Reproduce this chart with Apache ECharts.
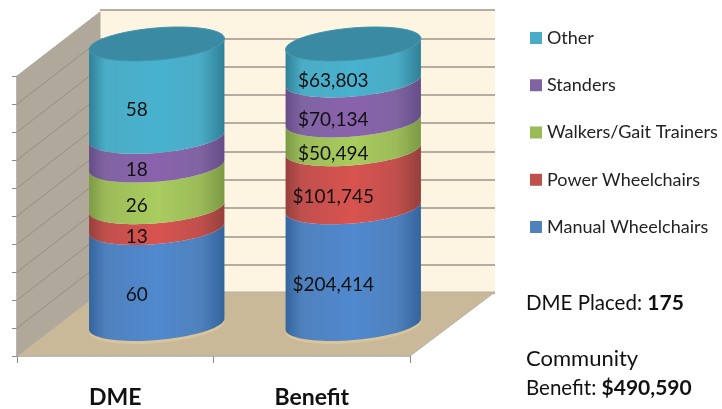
<!DOCTYPE html>
<html><head><meta charset="utf-8">
<style>html,body{margin:0;padding:0;background:#fff}#c{width:722px;height:409px}</style>
<script src="https://cdn.jsdelivr.net/npm/echarts@6/dist/echarts.min.js"></script>
</head><body><div id="c"></div>
<script>
var categories = ['DME', 'Benefit'];
var seriesNames = ['Manual Wheelchairs', 'Power Wheelchairs', 'Walkers/Gait Trainers', 'Standers', 'Other'];
var legendOrder = ['Other', 'Standers', 'Walkers/Gait Trainers', 'Power Wheelchairs', 'Manual Wheelchairs'];
var dmeValues = [60, 13, 26, 18, 58];
var benefitValues = [204414, 101745, 50494, 70134, 63803];
var colors = ['#4f81bd', '#c0504d', '#9bbb59', '#8064a2', '#4bacc6'];
var bright = ['#5089cf', '#d9534f', '#a9cc5f', '#8a62ad', '#48b2cf'];
var dark = ['#34649c', '#96403c', '#7b9a45', '#654d88', '#2f8098'];
var gridTicks = [0, 10, 20, 30, 40, 50, 60, 70, 80, 90, 100];
var noteDme = 'DME Placed: ', noteDmeValue = '175';
var noteCommunity = 'Community', noteBenefit = 'Benefit: ', noteBenefitValue = '$490,590';

var FONT = 'Lato, Carlito, sans-serif';
var DEPTH_X = 83, DEPTH_Y = -64;            // wall depth in pixels
var R = 64, EX = 22, EY = 17;               // oblique ellipse parameters

function money(v) { return '$' + v.toLocaleString('en-US'); }
function rows(vals) {
  var total = vals.reduce(function (a, b) { return a + b; }, 0);
  return { total: total, vals: vals };
}
var tables = [rows(dmeValues), rows(benefitValues)];
function seriesData(s) {
  return tables.map(function (t, c) {
    var before = 0;
    for (var i = 0; i < s; i++) before += t.vals[i];
    return [c, before / t.total * 100, (before + t.vals[s]) / t.total * 100];
  });
}
function ellipsePt(cx, cy, t) {
  return [cx + R * Math.cos(t) + EX * Math.sin(t), cy - EY * Math.sin(t)];
}
var T0 = Math.atan2(EX, R);
function frontArc(cx, cy, n) {
  var pts = [];
  for (var i = 0; i <= n; i++) {
    var t = T0 - (i / n) * Math.PI;
    pts.push(ellipsePt(cx, cy, t));
  }
  return pts;
}
function bodyFill(s) {
  return new echarts.graphic.LinearGradient(0, 0, 1, 0, [
    { offset: 0, color: dark[s] }, { offset: 0.12, color: colors[s] },
    { offset: 0.5, color: bright[s] }, { offset: 0.82, color: colors[s] },
    { offset: 1, color: dark[s] }
  ]);
}
function cylinderSeries(s) {
  return {
    type: 'custom', name: seriesNames[s], xAxisIndex: 0, yAxisIndex: 0, z: 5,
    itemStyle: { color: colors[s] },
    encode: { x: 0, y: [1, 2] },
    data: seriesData(s),
    clip: false,
    renderItem: function (params, api) {
      var cat = api.value(0), lo = api.coord([cat, api.value(1)]), hi = api.coord([cat, api.value(2)]);
      var cx = lo[0] + DEPTH_X / 2, yLo = lo[1] + DEPTH_Y / 2, yHi = hi[1] + DEPTH_Y / 2;
      var pts = frontArc(cx, yLo, 40).concat(frontArc(cx, yHi, 40).reverse());
      var raw = tables[cat].vals[s];
      var children = [{
        type: 'polygon', shape: { points: pts },
        style: { fill: bodyFill(s), stroke: null }
      }];
      if (s === 0) {
        var halo = [];
        for (var j = 0; j < 72; j++) halo.push(ellipsePt(cx, yLo + 3, j / 72 * 2 * Math.PI));
        children.unshift({
          type: 'polygon', shape: { points: halo },
          style: { fill: '#d9c49c', stroke: null }
        });
      }
      if (s === seriesNames.length - 1) {
        var top = [];
        for (var i = 0; i < 72; i++) top.push(ellipsePt(cx, yHi, i / 72 * 2 * Math.PI));
        children.push({
          type: 'polygon', shape: { points: top },
          style: { fill: '#3a8aa3', stroke: '#4295ad', lineWidth: 1 }
        });
      }
      children.push({
        type: 'text', z2: 20,
        style: {
          text: cat === 0 ? String(raw) : money(raw),
          x: cx - 20, y: (yLo + yHi) / 2 + 19,
          align: 'center', verticalAlign: 'middle',
          font: '19px ' + FONT, fill: '#111'
        }
      });
      return { type: 'group', children: children };
    }
  };
}
var wallSeries = {
  type: 'custom', xAxisIndex: 0, yAxisIndex: 0, z: 1, silent: true, clip: false,
  encode: { x: 0, y: 1 }, legendHoverLink: false,
  data: [[0, 0]],
  renderItem: function (params, api) {
    var band = api.size([1, 0])[0];
    var o = api.coord([0, 0]), t = api.coord([0, 100]);
    var x0 = o[0] - band / 2, x1 = x0 + 2 * band;
    var ch = [{
      type: 'polygon',
      shape: { points: [[x0, o[1]], [x0 + DEPTH_X, o[1] + DEPTH_Y], [x1 + 85, o[1] + DEPTH_Y], [x1, o[1]]] },
      style: { fill: '#c9b998', stroke: '#b4b0a8', lineWidth: 1 }
    }, {
      type: 'polygon',
      shape: { points: [[x0, t[1]], [x0 + DEPTH_X, t[1] + DEPTH_Y], [x0 + DEPTH_X, o[1] + DEPTH_Y], [x0, o[1]]] },
      style: { fill: '#b0a99b', stroke: '#b0a99b', lineWidth: 1 }
    }];
    gridTicks.forEach(function (v) {
      if (v === 0 || v === 100) return;
      var p = api.coord([0, v]);
      ch.push({
        type: 'line',
        shape: { x1: x0, y1: p[1], x2: x0 + DEPTH_X, y2: p[1] + DEPTH_Y },
        style: { stroke: '#968f82', lineWidth: 1 }
      });
    });
    return { type: 'group', children: ch };
  }
};
var series = [wallSeries];
for (var s = 0; s < seriesNames.length; s++) series.push(cylinderSeries(s));

var chart = echarts.init(document.getElementById('c'), null, { renderer: 'canvas' });
var noteRich = { a: { font: '20.5px ' + FONT, fill: '#111' }, b: { font: 'bold 21px ' + FONT, fill: '#111' } };
chart.setOption({
  animation: false,
  backgroundColor: '#fff',
  grid: [
    { left: 17, top: 76, width: 393, height: 281, show: false },
    { left: 100, top: 10, width: 395, height: 283, show: true, backgroundColor: '#fdf4e1', borderWidth: 0 }
  ],
  xAxis: [{
    type: 'category', gridIndex: 0, data: categories,
    axisLine: { show: true, lineStyle: { color: '#b0b0b0', width: 1.5 } },
    axisTick: { show: true, length: 7, lineStyle: { color: '#8a8a8a' } },
    axisLabel: { margin: 30, fontFamily: FONT, fontWeight: 'bold', fontSize: 23, color: '#111' }
  }, {
    type: 'category', gridIndex: 1, data: categories, show: false
  }],
  yAxis: [{
    type: 'value', gridIndex: 0, min: 0, max: 100, interval: 10,
    axisLine: { show: true, lineStyle: { color: '#b0b0b0', width: 1.5 } },
    axisTick: { show: true, length: 5, lineStyle: { color: '#8a8a8a' } },
    axisLabel: { show: false }, splitLine: { show: false }
  }, {
    type: 'value', gridIndex: 1, min: 0, max: 100, interval: 10,
    axisLine: { show: false }, axisTick: { show: false }, axisLabel: { show: false },
    splitLine: { show: true, lineStyle: { color: '#9c9588', width: 1.5 } }
  }],
  legend: {
    orient: 'vertical', left: 525, top: 24, itemWidth: 12, itemHeight: 12, itemGap: 29.25,
    icon: 'rect', data: legendOrder, selectedMode: false,
    textStyle: { fontFamily: FONT, fontSize: 18, color: '#222' }
  },
  graphic: [
    { type: 'text', left: 526, top: 293, style: { rich: noteRich, text: '{a|' + noteDme + '}{b|' + noteDmeValue + '}' } },
    { type: 'text', left: 526, top: 348, style: { font: '22px ' + FONT, fill: '#111', text: noteCommunity } },
    { type: 'text', left: 526, top: 378, style: { rich: noteRich, text: '{a|' + noteBenefit + '}{b|' + noteBenefitValue + '}' } }
  ],
  series: series
});
</script></body></html>
